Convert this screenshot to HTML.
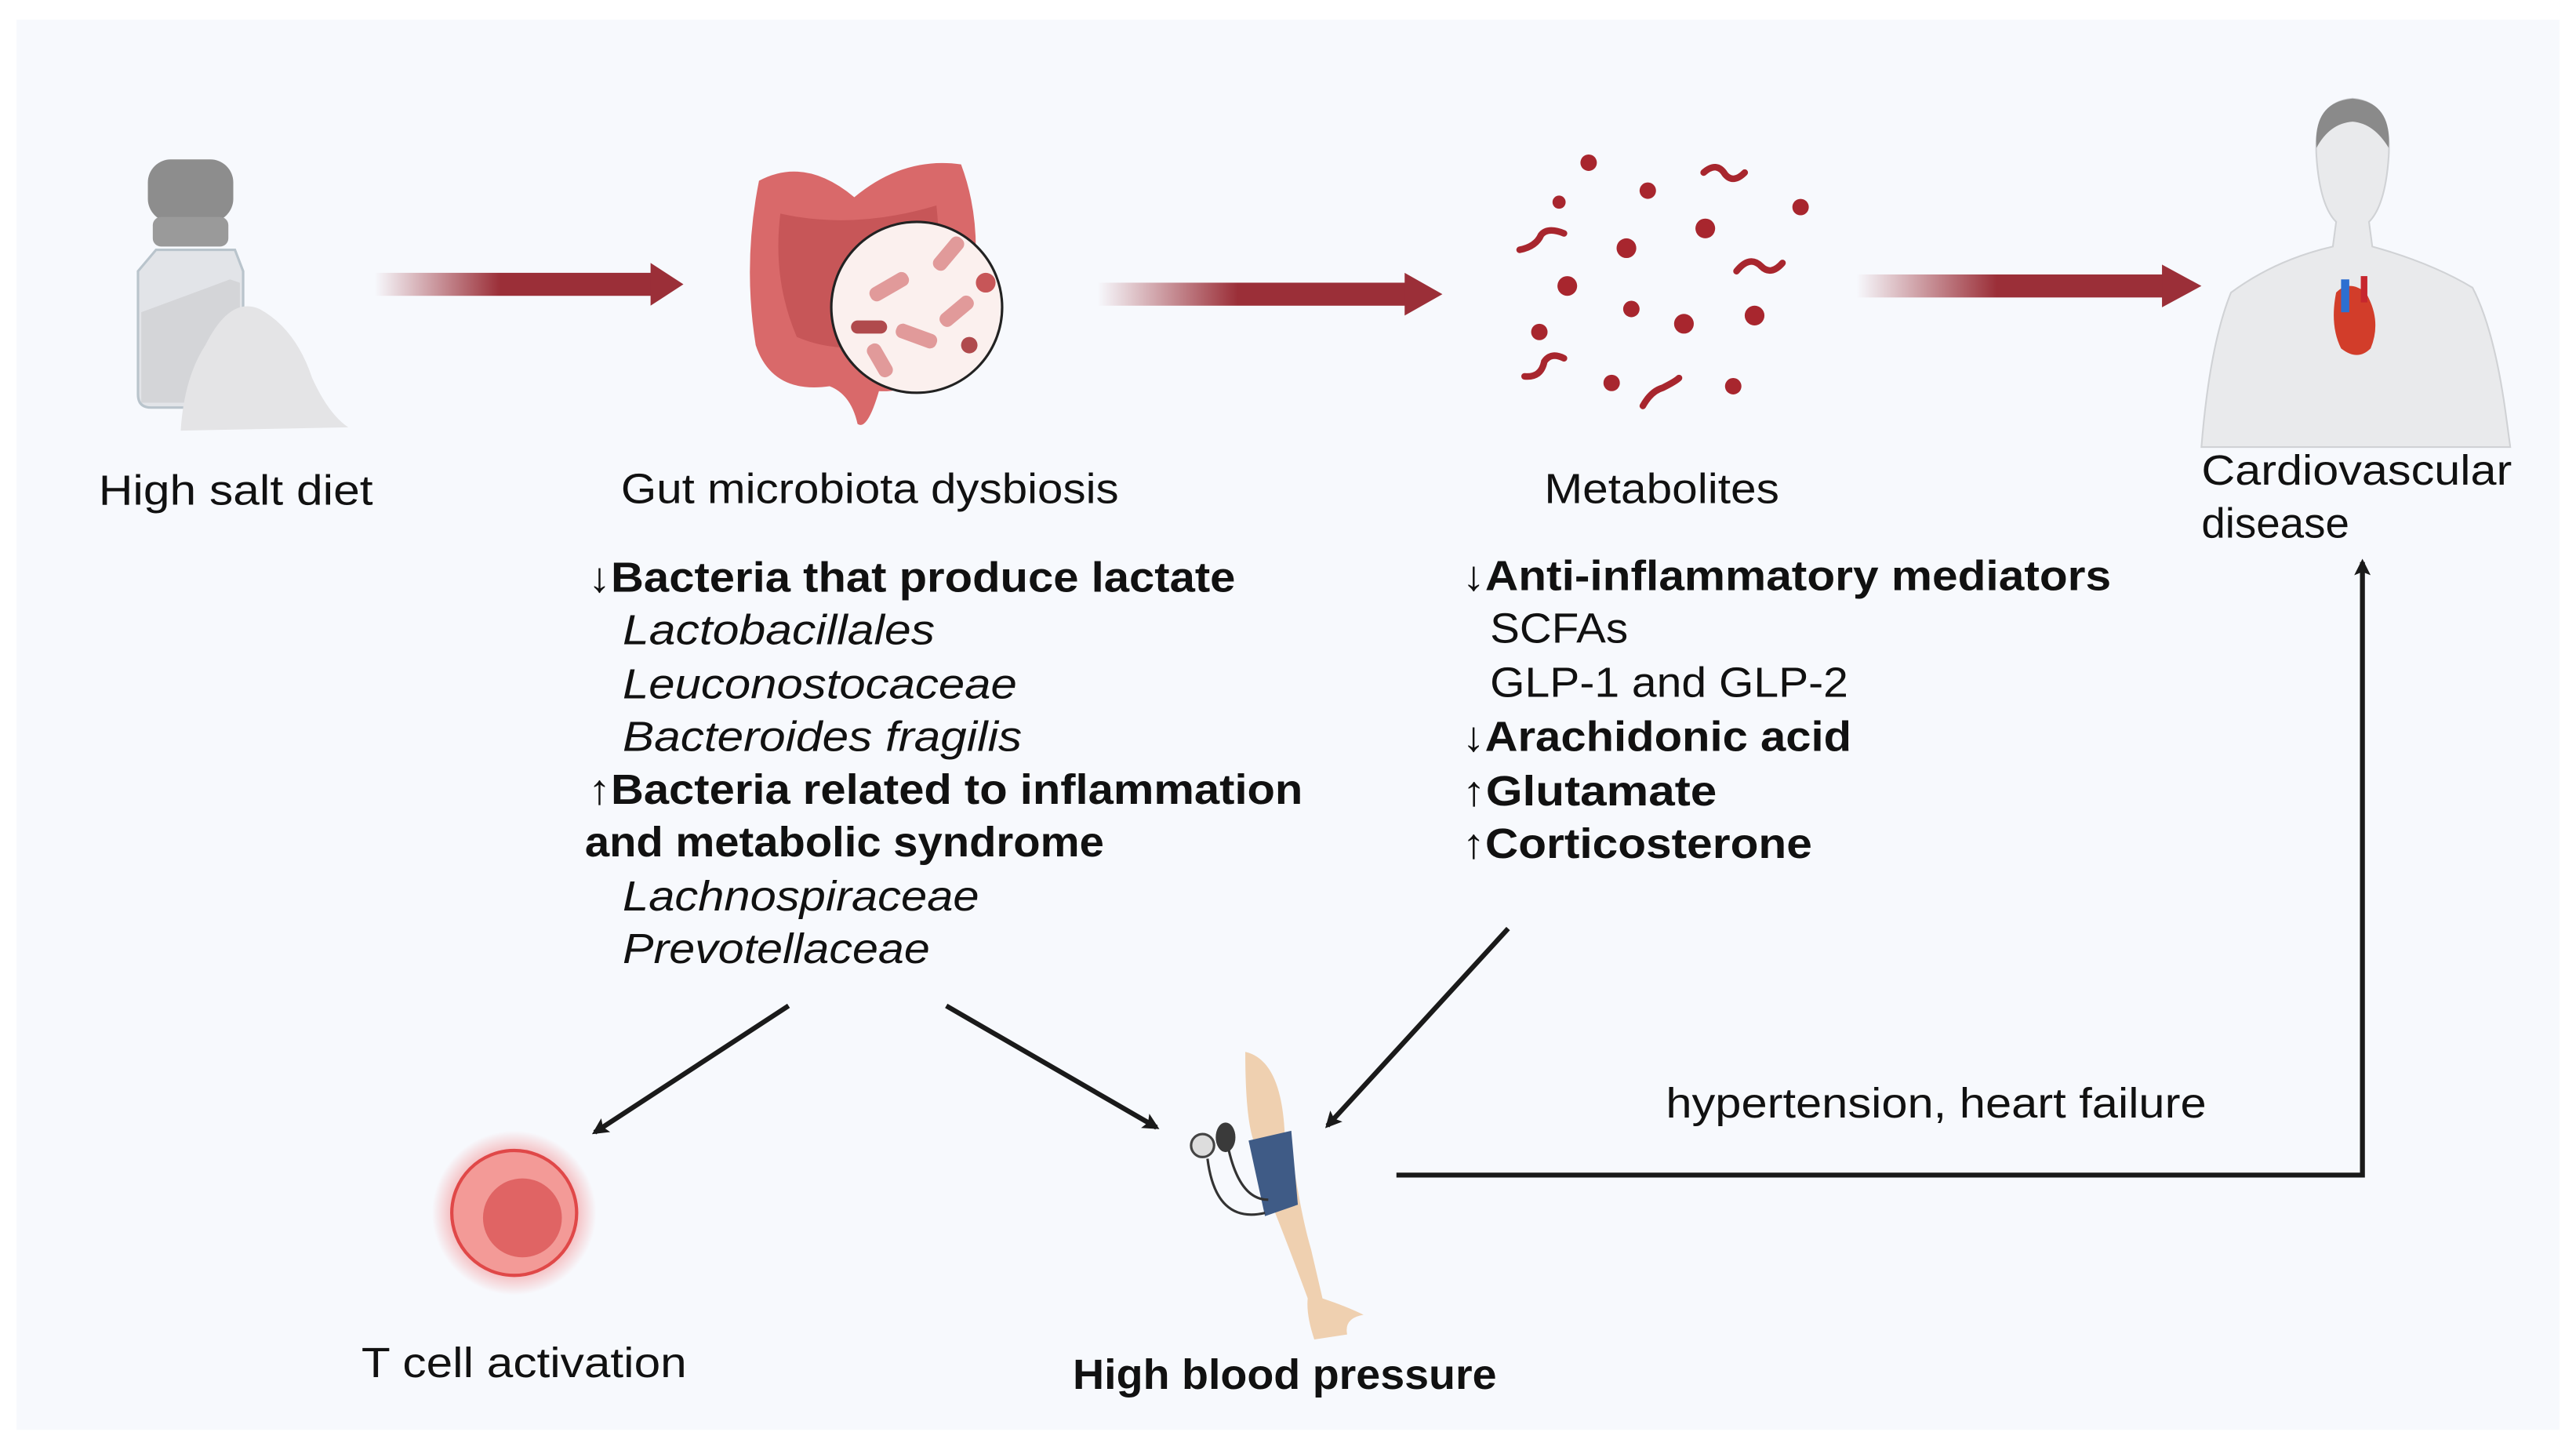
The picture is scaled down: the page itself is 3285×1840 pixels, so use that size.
<!DOCTYPE html>
<html><head><meta charset="utf-8"><style>
html,body{margin:0;padding:0;background:#fff;}
svg{display:block;}
text{font-family:"Liberation Sans",sans-serif;fill:#111;}
</style></head><body>
<svg width="3285" height="1840" viewBox="0 0 1568 878" preserveAspectRatio="none" xmlns="http://www.w3.org/2000/svg">
<defs>
<linearGradient id="ga" x1="0" x2="1" y1="0" y2="0">
<stop offset="0" stop-color="#9b2f38" stop-opacity="0"/>
<stop offset="0.45" stop-color="#9b2f38" stop-opacity="1"/>
<stop offset="1" stop-color="#9b2f38"/>
</linearGradient>
<radialGradient id="glow" cx="0.5" cy="0.5" r="0.5">
<stop offset="0.6" stop-color="#f05a5a" stop-opacity="0.6"/>
<stop offset="1" stop-color="#f05a5a" stop-opacity="0"/>
</radialGradient>
<marker id="ah" markerWidth="10" markerHeight="10" refX="8" refY="5" orient="auto" markerUnits="userSpaceOnUse">
<path d="M0,0 L10,5 L0,10 L2,5 z" fill="#1a1a1a"/>
</marker>
</defs>
<rect x="0" y="0" width="1568" height="878" fill="#fff"/>
<rect x="10" y="12" width="1548" height="858" fill="#f7f9fd"/>

<!-- gradient arrows -->
<g>
<rect x="228" y="166" width="170" height="14" fill="url(#ga)"/>
<path d="M396,160 L416,173 L396,186 z" fill="#9b2f38"/>
<rect x="668" y="172" width="190" height="14" fill="url(#ga)"/>
<path d="M855,166 L878,179 L855,192 z" fill="#9b2f38"/>
<rect x="1130" y="167" width="190" height="14" fill="url(#ga)"/>
<path d="M1316,161 L1340,174 L1316,187 z" fill="#9b2f38"/>
</g>

<!-- salt shaker -->
<g>
<path d="M95,152 L143,152 L148,165 L148,240 Q148,248 140,248 L92,248 Q84,248 84,240 L84,165 z" fill="#e2e4e8" stroke="#b9c4cc" stroke-width="1.5"/>
<path d="M86,190 L140,170 L146,172 L146,245 L86,245 z" fill="#d4d5d8"/>
<rect x="90" y="97" width="52" height="38" rx="14" fill="#8d8d8d"/>
<rect x="93" y="132" width="46" height="18" rx="5" fill="#9a9a9a"/>
<path d="M110,262 Q112,230 125,210 Q140,180 158,188 Q180,200 190,230 Q200,252 212,260 z" fill="#e4e4e6"/>
</g>

<!-- gut -->
<g>
<path d="M462,110 Q490,95 520,120 Q550,95 585,100 Q600,140 590,190 Q570,240 535,238 Q528,262 522,258 Q518,240 505,235 Q470,240 460,210 Q452,160 462,110 z" fill="#d9696a"/>
<path d="M475,130 Q520,140 570,125 Q575,170 560,200 Q520,220 485,205 Q470,170 475,130 z" fill="#c75658"/>
<circle cx="558" cy="187" r="52" fill="#fbf0ee" stroke="#222" stroke-width="1.5"/>
<g fill="#e19a9a">
<rect x="528" y="170" width="26" height="9" rx="4" transform="rotate(-30 541 174)"/>
<rect x="545" y="200" width="26" height="9" rx="4" transform="rotate(20 558 204)"/>
<rect x="565" y="150" width="24" height="9" rx="4" transform="rotate(-50 577 154)"/>
<rect x="525" y="215" width="22" height="9" rx="4" transform="rotate(60 536 219)"/>
<rect x="570" y="185" width="24" height="9" rx="4" transform="rotate(-40 582 189)"/>
</g>
<rect x="518" y="195" width="22" height="8" rx="4" fill="#b04a4d"/>
<circle cx="600" cy="172" r="6" fill="#c75658"/>
<circle cx="590" cy="210" r="5" fill="#b04a4d"/>
</g>

<!-- metabolites -->
<g fill="#a8262e">
<circle cx="967" cy="99" r="5"/><circle cx="1003" cy="116" r="5"/><circle cx="949" cy="123" r="4"/>
<circle cx="1096" cy="126" r="5"/><circle cx="1038" cy="139" r="6"/><circle cx="990" cy="151" r="6"/>
<circle cx="954" cy="174" r="6"/><circle cx="993" cy="188" r="5"/><circle cx="1068" cy="192" r="6"/>
<circle cx="1025" cy="197" r="6"/><circle cx="937" cy="202" r="5"/><circle cx="981" cy="233" r="5"/>
<circle cx="1055" cy="235" r="5"/>
</g>
<g fill="none" stroke="#a8262e" stroke-width="4" stroke-linecap="round">
<path d="M1037,105 Q1045,98 1050,106 Q1055,112 1062,105"/>
<path d="M925,152 Q935,150 938,143 Q942,138 952,142"/>
<path d="M1057,165 Q1065,155 1072,162 Q1078,168 1085,160"/>
<path d="M928,229 Q938,230 940,220 Q944,214 952,218"/>
<path d="M1000,247 Q1005,238 1012,236 Q1020,232 1022,230"/>
</g>

<!-- human -->
<g>
<path d="M1410,95 Q1408,62 1432,60 Q1456,62 1454,95 Q1452,125 1442,135 L1444,150 Q1480,160 1505,175 Q1518,200 1525,250 L1528,272 L1340,272 Q1345,210 1358,178 Q1385,158 1420,150 L1422,135 Q1412,125 1410,95 z" fill="#e9eaec" stroke="#d0d2d5" stroke-width="1"/>
<path d="M1410,90 Q1408,62 1432,60 Q1456,62 1454,90 Q1445,75 1432,74 Q1418,75 1410,90 z" fill="#8a8a8a"/>
<path d="M1422,178 Q1430,170 1440,178 Q1450,195 1443,212 Q1435,220 1425,212 Q1418,198 1422,178 z" fill="#d23d2a"/>
<rect x="1425" y="170" width="5" height="20" fill="#2d6fd1"/>
<rect x="1437" y="168" width="4" height="16" fill="#c6262e"/>
</g>

<!-- labels -->
<text x="60" y="307" font-size="25.5" textLength="167" lengthAdjust="spacingAndGlyphs">High salt diet</text>
<text x="378" y="306" font-size="25.5" textLength="303" lengthAdjust="spacingAndGlyphs">Gut microbiota dysbiosis</text>
<text x="940" y="306" font-size="25.5" textLength="143" lengthAdjust="spacingAndGlyphs">Metabolites</text>
<text x="1340" y="295" font-size="25.5" textLength="189" lengthAdjust="spacingAndGlyphs">Cardiovascular</text>
<text x="1340" y="327" font-size="25.5" textLength="90" lengthAdjust="spacingAndGlyphs">disease</text>

<!-- left list -->
<g font-size="25.5">
<text x="358" y="360" font-weight="bold" textLength="394" lengthAdjust="spacingAndGlyphs">↓Bacteria that produce lactate</text>
<text x="379" y="392" font-style="italic" textLength="190" lengthAdjust="spacingAndGlyphs">Lactobacillales</text>
<text x="379" y="425" font-style="italic" textLength="240" lengthAdjust="spacingAndGlyphs">Leuconostocaceae</text>
<text x="379" y="457" font-style="italic" textLength="243" lengthAdjust="spacingAndGlyphs">Bacteroides fragilis</text>
<text x="358" y="489" font-weight="bold" textLength="435" lengthAdjust="spacingAndGlyphs">↑Bacteria related to inflammation</text>
<text x="356" y="521" font-weight="bold" textLength="316" lengthAdjust="spacingAndGlyphs">and metabolic syndrome</text>
<text x="379" y="554" font-style="italic" textLength="217" lengthAdjust="spacingAndGlyphs">Lachnospiraceae</text>
<text x="379" y="586" font-style="italic" textLength="187" lengthAdjust="spacingAndGlyphs">Prevotellaceae</text>
</g>
<!-- right list -->
<g font-size="25.5">
<text x="890" y="359" font-weight="bold" textLength="395" lengthAdjust="spacingAndGlyphs">↓Anti-inflammatory mediators</text>
<text x="907" y="391" textLength="84" lengthAdjust="spacingAndGlyphs">SCFAs</text>
<text x="907" y="424" textLength="218" lengthAdjust="spacingAndGlyphs">GLP-1 and GLP-2</text>
<text x="890" y="457" font-weight="bold" textLength="237" lengthAdjust="spacingAndGlyphs">↓Arachidonic acid</text>
<text x="890" y="490" font-weight="bold" textLength="155" lengthAdjust="spacingAndGlyphs">↑Glutamate</text>
<text x="890" y="522" font-weight="bold" textLength="213" lengthAdjust="spacingAndGlyphs">↑Corticosterone</text>
</g>

<!-- black arrows -->
<g stroke="#1a1a1a" stroke-width="3" fill="none">
<line x1="480" y1="612" x2="362" y2="689" marker-end="url(#ah)"/>
<line x1="576" y1="612" x2="704" y2="686" marker-end="url(#ah)"/>
<line x1="918" y1="565" x2="808" y2="685" marker-end="url(#ah)"/>
<polyline points="850,715 1438,715 1438,342" marker-end="url(#ah)"/>
</g>
<text x="1014" y="680" font-size="25.5" textLength="329" lengthAdjust="spacingAndGlyphs">hypertension, heart failure</text>

<!-- T cell -->
<circle cx="313" cy="738" r="50" fill="url(#glow)"/>
<circle cx="313" cy="738" r="38" fill="#f39a97" stroke="#e04848" stroke-width="2"/>
<circle cx="318" cy="741" r="24" fill="#e06464"/>
<text x="220" y="838" font-size="25.5" textLength="198" lengthAdjust="spacingAndGlyphs">T cell activation</text>

<!-- arm -->
<g>
<path d="M758,640 Q780,645 782,690 L786,700 Q792,740 798,760 L805,790 Q820,795 830,800 Q818,802 820,812 L800,815 Q795,800 796,790 Q785,760 775,735 L766,700 Q758,690 758,640 z" fill="#efd0b0"/>
<path d="M760,694 L786,688 L790,733 L770,740 z" fill="#3f5b86"/>
<circle cx="732" cy="697" r="7" fill="#ddd" stroke="#444" stroke-width="1.5"/>
<ellipse cx="746" cy="692" rx="6" ry="9" fill="#3a3a3a"/>
<path d="M735,705 Q740,745 770,738 M748,700 Q755,730 772,730" fill="none" stroke="#333" stroke-width="1.5"/>
</g>
<text x="653" y="845" font-size="25.5" font-weight="bold" textLength="258" lengthAdjust="spacingAndGlyphs">High blood pressure</text>
</svg>
</body></html>
